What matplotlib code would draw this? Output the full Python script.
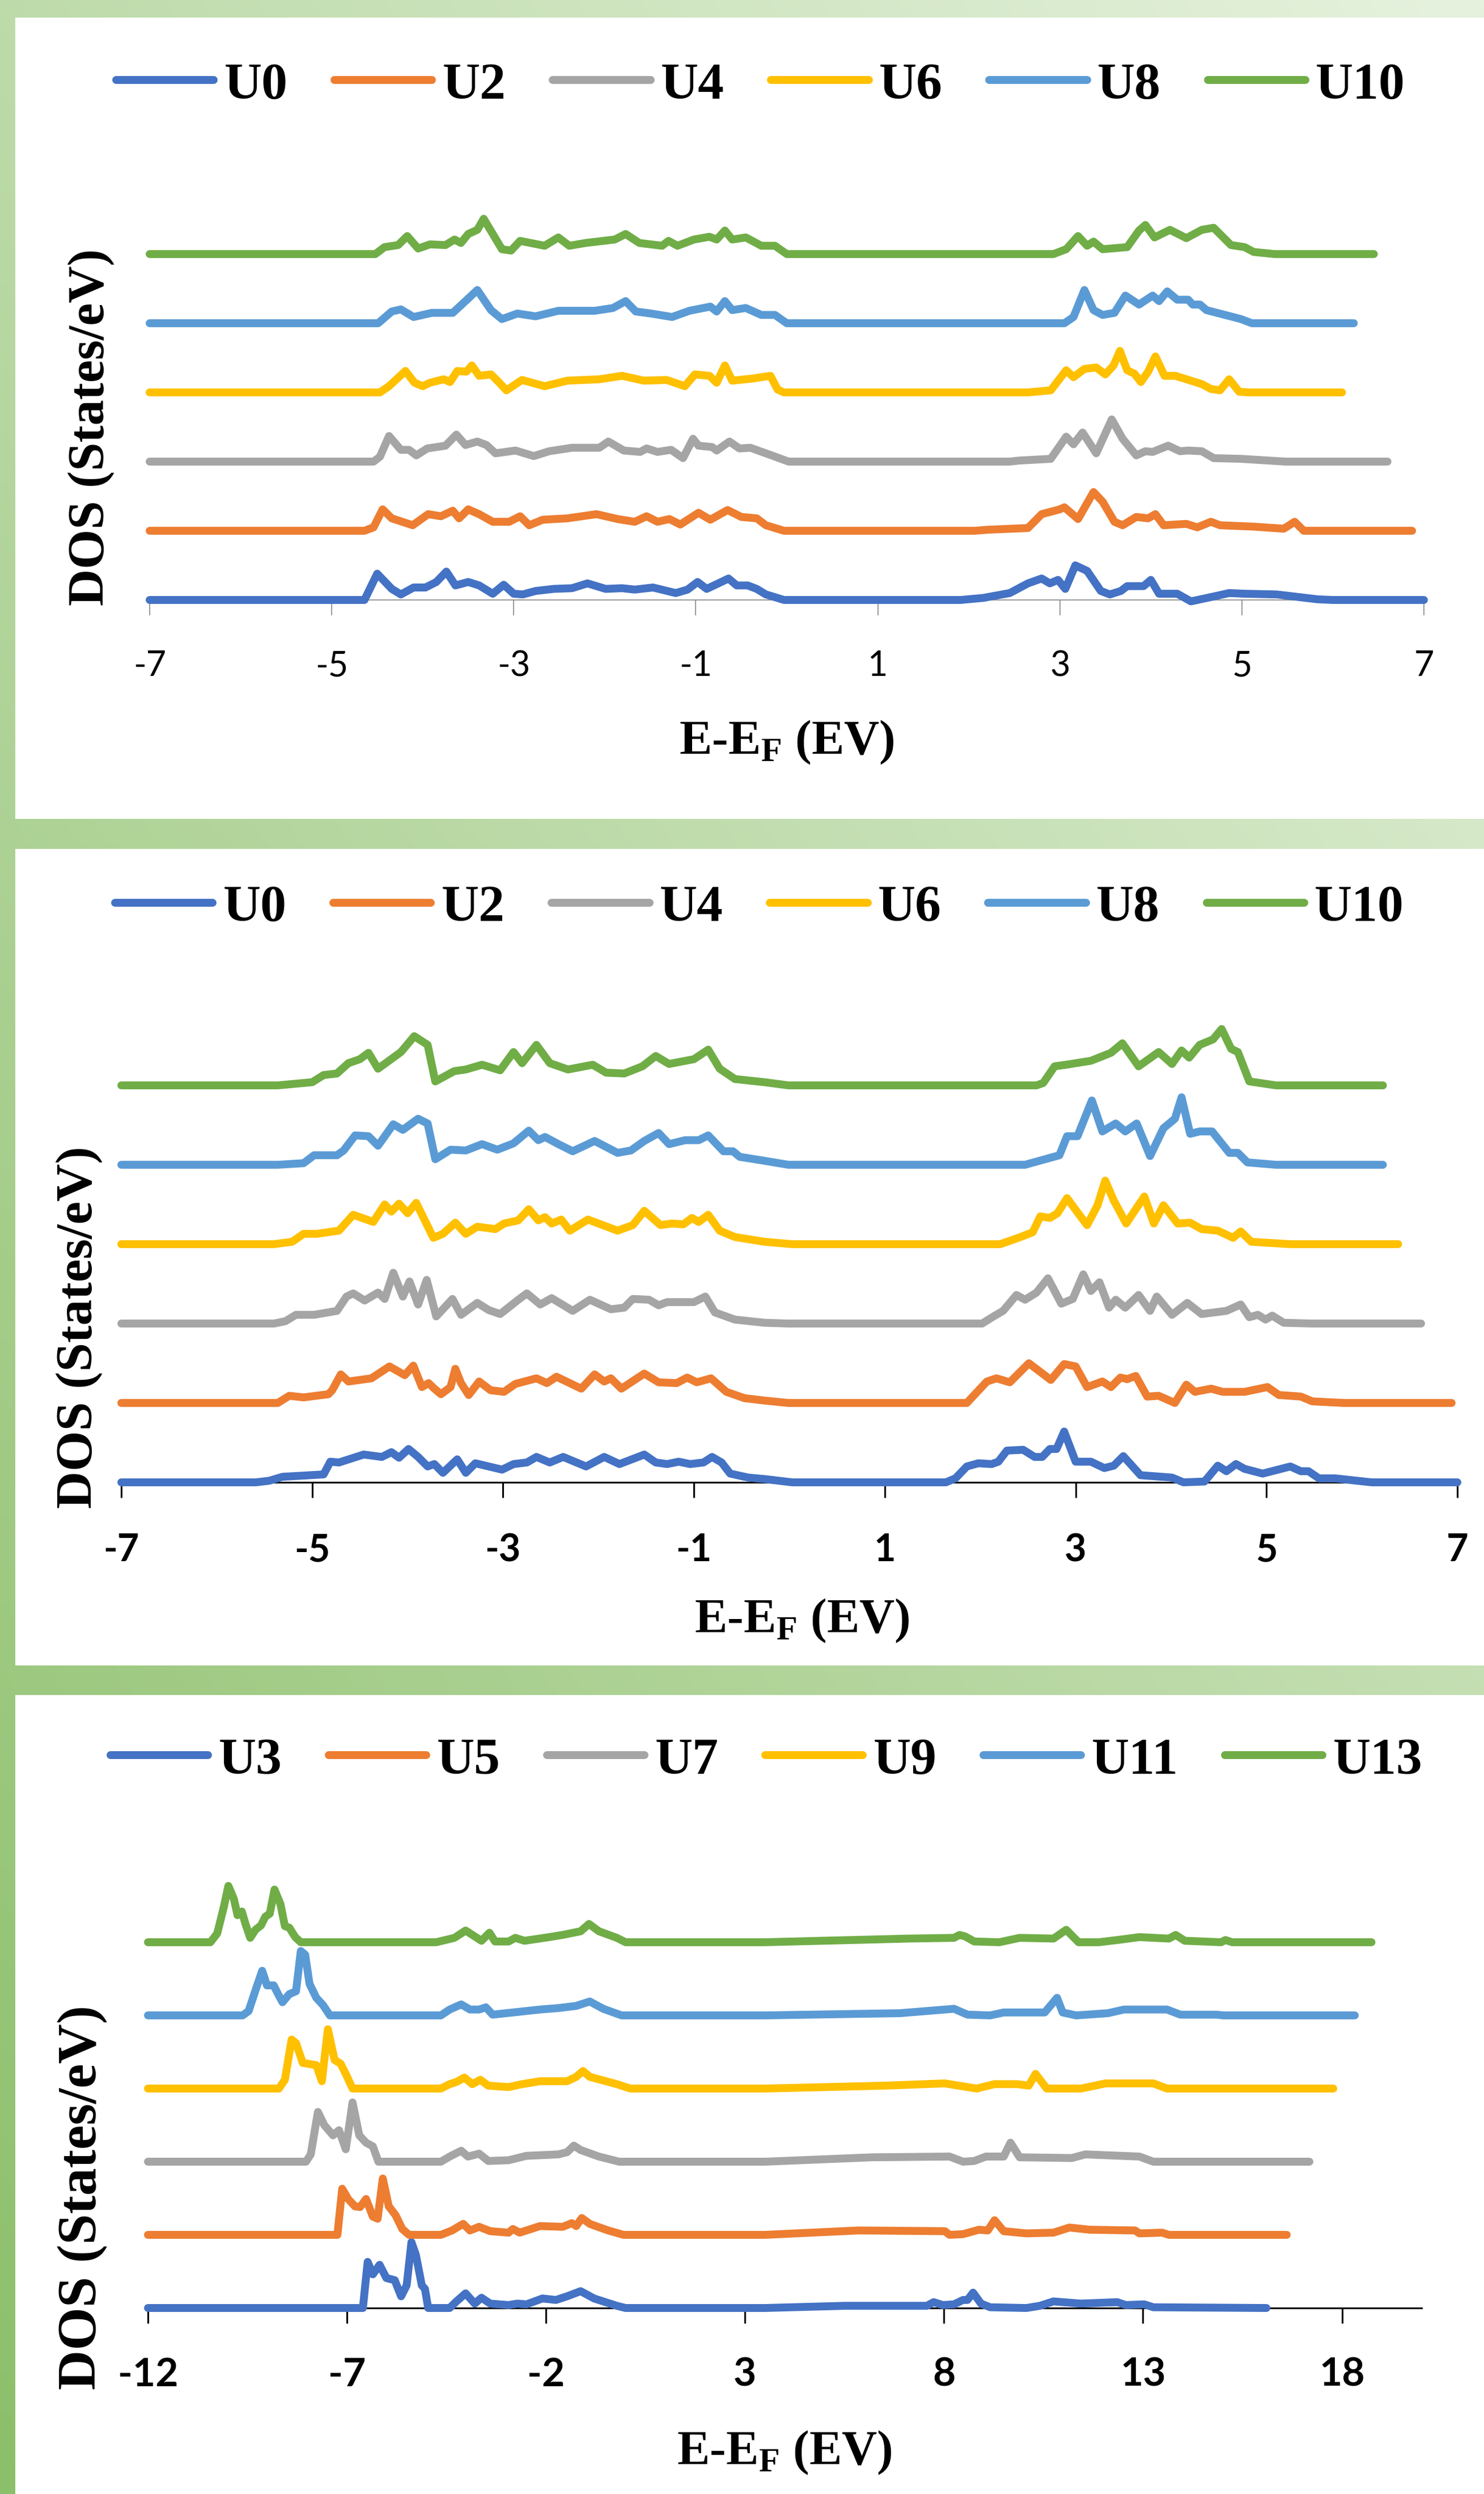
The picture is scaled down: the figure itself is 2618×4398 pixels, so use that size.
import matplotlib
matplotlib.use("Agg")
import matplotlib.pyplot as plt
import numpy as np
from matplotlib.patches import Rectangle
from matplotlib.lines import Line2D
from matplotlib.font_manager import FontProperties

W, H = 2618, 4398
DPI = 100

# ---------------- data: (E-EF, DOS) ----------------
# panel 1
P1_U0 = [(-7, 0), (-4.64, 0), (-4.50, 3.8), (-4.34, 1.6), (-4.24, 0.8), (-4.10, 1.8), (-3.97, 1.8), (-3.85, 2.6),
         (-3.74, 4.1), (-3.64, 2.1), (-3.50, 2.6), (-3.38, 2.1), (-3.23, 0.9), (-3.11, 2.2), (-3.00, 0.9), (-2.90, 0.8),
         (-2.76, 1.3), (-2.56, 1.6), (-2.36, 1.7), (-2.19, 2.4), (-1.99, 1.6), (-1.81, 1.7), (-1.67, 1.5), (-1.47, 1.8),
         (-1.22, 1.0), (-1.09, 1.5), (-0.98, 2.6), (-0.88, 1.6), (-0.64, 3.1), (-0.55, 2.1), (-0.43, 2.1), (-0.33, 1.6),
         (-0.23, 0.8), (-0.03, 0), (1.91, 0), (2.16, 0.3), (2.45, 1.0), (2.65, 2.4), (2.80, 3.1), (2.89, 2.4),
         (2.98, 2.9), (3.06, 1.6), (3.17, 5.0), (3.30, 4.2), (3.45, 1.3), (3.55, 0.8), (3.67, 1.3), (3.74, 2.0),
         (3.92, 2.0), (4.00, 2.9), (4.09, 0.9), (4.29, 0.9), (4.44, -0.2), (4.69, 0.5), (4.86, 1.0), (5.03, 0.9),
         (5.38, 0.8), (5.83, 0.1), (6.0, 0), (7.0, 0)]
P1_U2 = [(-7, 0), (-4.64, 0), (-4.54, 0.5), (-4.44, 3.1), (-4.34, 1.8), (-4.11, 0.8), (-3.94, 2.4), (-3.80, 2.1),
         (-3.67, 2.9), (-3.60, 1.8), (-3.50, 3.1), (-3.38, 2.4), (-3.23, 1.3), (-3.05, 1.3), (-2.93, 2.1), (-2.83, 0.8),
         (-2.68, 1.6), (-2.41, 1.8), (-2.09, 2.4), (-1.86, 1.7), (-1.67, 1.3), (-1.54, 2.1), (-1.42, 1.3), (-1.29, 1.7),
         (-1.17, 0.9), (-0.97, 2.6), (-0.84, 1.6), (-0.65, 3.0), (-0.50, 2.0), (-0.33, 1.8), (-0.23, 0.8), (-0.03, 0),
         (2.06, 0), (2.21, 0.15), (2.65, 0.4), (2.80, 2.4), (3.0, 3.1), (3.05, 3.4), (3.20, 1.7), (3.37, 5.6),
         (3.47, 4.2), (3.60, 1.3), (3.69, 0.8), (3.84, 2.0), (3.97, 1.8), (4.05, 2.4), (4.14, 0.8), (4.39, 1.0),
         (4.51, 0.5), (4.66, 1.3), (4.76, 0.8), (5.13, 0.6), (5.46, 0.3), (5.58, 1.3), (5.68, 0), (6.87, 0)]
P1_U4 = [(-7, 0), (-4.54, 0), (-4.47, 0.7), (-4.37, 3.7), (-4.24, 1.7), (-4.15, 1.7), (-4.07, 0.9), (-3.95, 1.9),
         (-3.75, 2.3), (-3.63, 3.9), (-3.53, 2.4), (-3.40, 2.9), (-3.30, 2.4), (-3.20, 1.2), (-2.98, 1.6), (-2.78, 0.8),
         (-2.61, 1.5), (-2.36, 2.0), (-2.06, 2.0), (-1.96, 2.9), (-1.79, 1.6), (-1.61, 1.4), (-1.54, 1.9), (-1.42, 1.4),
         (-1.27, 1.7), (-1.14, 0.5), (-1.03, 3.3), (-0.97, 2.3), (-0.82, 2.1), (-0.77, 1.6), (-0.63, 2.9), (-0.52, 1.9),
         (-0.40, 2.0), (-0.23, 1.2), (0.02, 0), (2.45, 0), (2.55, 0.15), (2.90, 0.4), (3.07, 3.6), (3.15, 2.5),
         (3.25, 4.2), (3.40, 1.2), (3.57, 6.1), (3.69, 3.3), (3.84, 0.9), (3.94, 1.5), (4.02, 1.4), (4.19, 2.3),
         (4.32, 1.5), (4.41, 1.6), (4.56, 1.5), (4.69, 0.5), (4.99, 0.4), (5.48, 0), (6.60, 0)]
P1_U6 = [(-7, 0), (-4.47, 0), (-4.37, 0.9), (-4.19, 3.1), (-4.09, 1.4), (-4.0, 0.9), (-3.92, 1.4), (-3.77, 1.9),
         (-3.70, 1.5), (-3.62, 3.1), (-3.52, 3.0), (-3.46, 3.9), (-3.38, 2.4), (-3.25, 2.6), (-3.18, 1.7), (-3.08, 0.3),
         (-2.91, 1.8), (-2.66, 0.9), (-2.41, 1.7), (-2.06, 1.9), (-1.81, 2.4), (-1.57, 1.7), (-1.32, 1.8), (-1.12, 0.9),
         (-1.01, 2.6), (-0.85, 2.4), (-0.77, 1.4), (-0.68, 3.9), (-0.60, 1.7), (-0.38, 2.0), (-0.18, 2.4), (-0.10, 0.4),
         (-0.03, 0), (2.65, 0), (2.90, 0.3), (3.07, 3.2), (3.15, 2.2), (3.27, 3.4), (3.40, 3.6), (3.50, 2.6),
         (3.59, 3.9), (3.66, 6.0), (3.74, 3.2), (3.82, 2.7), (3.89, 1.5), (3.97, 3.0), (4.05, 5.2), (4.15, 2.4),
         (4.27, 2.4), (4.56, 1.2), (4.66, 0.5), (4.76, 0.3), (4.86, 1.9), (4.97, 0.1), (5.07, 0), (6.10, 0)]
P1_U8 = [(-7, 0), (-4.49, 0), (-4.34, 1.7), (-4.24, 2.0), (-4.10, 0.9), (-3.90, 1.5), (-3.67, 1.5), (-3.53, 3.2),
         (-3.40, 4.8), (-3.25, 1.9), (-3.13, 0.6), (-2.96, 1.4), (-2.76, 1.0), (-2.51, 1.8), (-2.11, 1.8), (-1.91, 2.2),
         (-1.77, 3.2), (-1.66, 1.7), (-1.49, 1.4), (-1.26, 0.9), (-1.07, 1.8), (-0.84, 2.4), (-0.77, 1.7), (-0.68, 3.2),
         (-0.60, 1.9), (-0.45, 2.2), (-0.28, 1.2), (-0.13, 1.2), (0.0, 0), (3.05, 0), (3.15, 0.9), (3.27, 4.8),
         (3.37, 1.9), (3.47, 1.2), (3.60, 1.5), (3.72, 4.0), (3.87, 2.7), (4.02, 4.0), (4.09, 3.2), (4.18, 4.6),
         (4.29, 3.4), (4.41, 3.4), (4.46, 2.7), (4.54, 2.7), (4.61, 1.9), (4.99, 0.6), (5.11, 0), (6.23, 0)]
P1_U10 = [(-7, 0), (-4.52, 0), (-4.42, 1.0), (-4.27, 1.3), (-4.17, 2.6), (-4.05, 0.8), (-3.92, 1.4), (-3.75, 1.3),
          (-3.65, 2.1), (-3.58, 1.6), (-3.50, 2.9), (-3.40, 3.5), (-3.33, 5.1), (-3.23, 2.9), (-3.13, 0.7), (-3.03, 0.5),
          (-2.93, 1.9), (-2.66, 1.2), (-2.51, 2.4), (-2.39, 1.2), (-2.21, 1.6), (-1.89, 2.1), (-1.77, 2.9), (-1.62, 1.6),
          (-1.37, 1.2), (-1.30, 1.9), (-1.20, 1.2), (-1.02, 2.1), (-0.85, 2.5), (-0.77, 2.1), (-0.68, 3.4), (-0.60, 2.1),
          (-0.45, 2.4), (-0.28, 1.2), (-0.13, 1.2), (0.0, 0), (2.93, 0), (3.07, 0.7), (3.20, 2.6), (3.30, 1.2),
          (3.37, 1.8), (3.47, 0.7), (3.74, 1.0), (3.87, 3.4), (3.94, 4.2), (4.04, 2.4), (4.21, 3.5), (4.39, 2.3),
          (4.56, 3.5), (4.69, 3.8), (4.88, 1.3), (5.03, 1.0), (5.13, 0.3), (5.36, 0), (6.45, 0)]

# panel 2
P2_U0 = [(-7, 0), (-5.59, 0), (-5.45, 0.2), (-5.31, 0.7), (-5.02, 0.9), (-4.88, 1.0), (-4.81, 2.6), (-4.72, 2.5),
         (-4.46, 3.5), (-4.27, 3.2), (-4.17, 3.8), (-4.09, 3.1), (-3.99, 4.2), (-3.89, 3.2), (-3.79, 2.0), (-3.72, 2.3),
         (-3.63, 1.2), (-3.48, 2.9), (-3.39, 1.2), (-3.29, 2.4), (-3.01, 1.6), (-2.89, 2.3), (-2.75, 2.5), (-2.65, 3.2),
         (-2.51, 2.5), (-2.37, 3.2), (-2.13, 2.0), (-1.94, 3.2), (-1.78, 2.3), (-1.52, 3.5), (-1.40, 2.5), (-1.28, 2.3),
         (-1.16, 2.6), (-1.04, 2.3), (-0.90, 2.5), (-0.81, 3.2), (-0.71, 2.5), (-0.62, 1.1), (-0.43, 0.6), (-0.25, 0.4),
         (0.03, 0), (1.64, 0), (1.74, 0.5), (1.86, 2.0), (1.98, 2.4), (2.12, 2.3), (2.19, 2.6), (2.28, 4.0),
         (2.45, 4.1), (2.57, 3.2), (2.65, 3.2), (2.73, 4.2), (2.80, 4.2), (2.88, 6.4), (3.00, 2.6), (3.16, 2.6),
         (3.30, 1.8), (3.40, 2.1), (3.50, 3.3), (3.68, 0.9), (4.01, 0.6), (4.13, 0), (4.35, 0.1), (4.49, 2.1),
         (4.58, 1.4), (4.68, 2.3), (4.77, 1.7), (4.96, 1.1), (5.25, 2.0), (5.36, 1.4), (5.44, 1.4), (5.55, 0.5),
         (5.72, 0.5), (6.10, 0), (7.0, 0)]
P2_U2 = [(-7, 0), (-5.36, 0), (-5.24, 0.9), (-5.09, 0.7), (-4.83, 1.1), (-4.79, 1.6), (-4.70, 3.6), (-4.62, 2.7),
         (-4.38, 3.1), (-4.19, 4.6), (-4.03, 3.5), (-3.94, 4.7), (-3.85, 2.0), (-3.78, 2.5), (-3.72, 1.8), (-3.65, 1.1),
         (-3.55, 2.0), (-3.50, 4.3), (-3.44, 2.5), (-3.36, 1.0), (-3.25, 2.7), (-3.13, 1.6), (-2.99, 1.4), (-2.87, 2.4),
         (-2.65, 3.1), (-2.54, 2.5), (-2.44, 3.3), (-2.18, 1.8), (-2.04, 3.6), (-1.94, 2.7), (-1.87, 3.1), (-1.76, 1.8),
         (-1.52, 3.7), (-1.37, 2.6), (-1.18, 2.5), (-1.07, 3.2), (-0.97, 2.6), (-0.82, 3.1), (-0.66, 1.4), (-0.47, 0.6),
         (-0.26, 0.3), (-0.01, 0), (1.86, 0), (2.07, 2.7), (2.17, 3.1), (2.31, 2.6), (2.51, 5.0), (2.74, 2.9),
         (2.88, 4.9), (3.00, 4.6), (3.12, 2.0), (3.28, 2.7), (3.37, 2.0), (3.47, 3.2), (3.54, 3.0), (3.63, 3.4),
         (3.75, 0.8), (3.87, 0.9), (4.04, 0), (4.16, 2.3), (4.25, 1.4), (4.42, 1.8), (4.54, 1.4), (4.77, 1.4),
         (5.01, 2.0), (5.13, 1.0), (5.25, 0.9), (5.36, 0.8), (5.48, 0.2), (5.81, 0), (6.94, 0)]
P2_U4 = [(-7, 0), (-5.40, 0), (-5.28, 0.3), (-5.17, 1.1), (-4.98, 1.1), (-4.74, 1.6), (-4.64, 3.4), (-4.57, 3.8),
         (-4.45, 2.9), (-4.31, 3.9), (-4.24, 3.1), (-4.15, 6.4), (-4.05, 3.4), (-3.98, 5.3), (-3.89, 2.4), (-3.80, 5.5),
         (-3.70, 0.9), (-3.53, 3.1), (-3.44, 1.1), (-3.27, 2.6), (-3.15, 1.7), (-3.03, 1.2), (-2.84, 3.0), (-2.75, 3.8),
         (-2.61, 2.4), (-2.49, 3.2), (-2.27, 1.6), (-2.09, 3.0), (-1.87, 1.8), (-1.73, 2.0), (-1.64, 3.1), (-1.47, 3.0),
         (-1.37, 2.3), (-1.28, 2.7), (-1.00, 2.7), (-0.88, 3.4), (-0.78, 1.4), (-0.57, 0.5), (-0.26, 0.1), (-0.01, 0),
         (2.02, 0), (2.14, 0.9), (2.24, 1.6), (2.38, 3.6), (2.47, 3.0), (2.59, 3.9), (2.71, 5.7), (2.85, 2.5),
         (2.97, 3.1), (3.08, 6.2), (3.16, 4.1), (3.25, 5.2), (3.35, 2.0), (3.42, 3.0), (3.52, 2.0), (3.66, 3.6),
         (3.78, 1.6), (3.85, 3.4), (4.01, 1.1), (4.17, 2.6), (4.32, 1.2), (4.58, 1.6), (4.73, 2.4), (4.82, 0.8),
         (4.91, 1.1), (4.99, 0.5), (5.06, 1.0), (5.18, 0.1), (5.48, 0), (6.62, 0)]
P2_U6 = [(-7, 0), (-5.40, 0), (-5.21, 0.3), (-5.09, 1.3), (-4.95, 1.3), (-4.72, 1.7), (-4.57, 3.7), (-4.36, 2.8),
         (-4.24, 5.0), (-4.17, 4.1), (-4.09, 5.1), (-4.00, 3.9), (-3.91, 5.2), (-3.73, 0.8), (-3.63, 1.3), (-3.50, 2.7),
         (-3.39, 1.3), (-3.27, 2.2), (-3.08, 1.9), (-2.99, 2.6), (-2.84, 3.0), (-2.73, 4.4), (-2.63, 3.0), (-2.56, 3.4),
         (-2.49, 2.6), (-2.39, 3.1), (-2.30, 1.7), (-2.11, 3.1), (-1.80, 1.7), (-1.64, 2.4), (-1.52, 4.2), (-1.35, 2.4),
         (-1.23, 2.6), (-1.11, 2.5), (-1.02, 3.3), (-0.95, 2.8), (-0.85, 3.7), (-0.73, 1.7), (-0.57, 0.9), (-0.26, 0.3),
         (0.03, 0), (2.21, 0), (2.40, 0.8), (2.55, 1.5), (2.63, 3.5), (2.73, 3.3), (2.81, 3.9), (2.91, 5.8),
         (3.02, 4.0), (3.12, 2.4), (3.23, 4.9), (3.31, 8.0), (3.40, 5.5), (3.53, 2.6), (3.63, 4.4), (3.72, 6.0),
         (3.82, 2.6), (3.92, 4.9), (4.07, 2.6), (4.20, 2.7), (4.32, 1.9), (4.49, 1.7), (4.65, 0.8), (4.73, 1.6),
         (4.84, 0.3), (5.25, 0), (6.38, 0)]
P2_U8 = [(-7, 0), (-5.36, 0), (-5.09, 0.2), (-4.98, 1.2), (-4.74, 1.2), (-4.67, 1.8), (-4.55, 3.7), (-4.41, 3.6),
         (-4.31, 2.4), (-4.15, 5.1), (-4.05, 4.4), (-3.89, 5.8), (-3.79, 5.2), (-3.71, 0.7), (-3.55, 1.9), (-3.39, 1.8),
         (-3.22, 2.6), (-3.06, 1.9), (-2.89, 2.7), (-2.73, 4.3), (-2.63, 3.1), (-2.56, 3.5), (-2.42, 2.6), (-2.27, 1.7),
         (-2.04, 3.0), (-1.80, 1.5), (-1.66, 1.8), (-1.52, 3.0), (-1.37, 4.0), (-1.26, 2.6), (-1.09, 3.1), (-0.95, 3.1),
         (-0.85, 3.7), (-0.69, 1.7), (-0.59, 1.7), (-0.52, 1.0), (-0.26, 0.5), (-0.01, 0), (2.47, 0), (2.71, 0.8),
         (2.83, 1.2), (2.91, 3.6), (3.02, 3.6), (3.17, 8.1), (3.28, 4.2), (3.42, 5.2), (3.52, 4.2), (3.64, 5.2),
         (3.78, 1.1), (3.92, 4.6), (4.04, 5.8), (4.11, 8.5), (4.20, 3.9), (4.30, 4.2), (4.43, 4.2), (4.61, 1.5),
         (4.70, 1.5), (4.80, 0.3), (5.10, 0), (6.22, 0)]
P2_U10 = [(-7, 0), (-5.36, 0), (-5.00, 0.4), (-4.88, 1.3), (-4.74, 1.5), (-4.62, 2.8), (-4.50, 3.3), (-4.41, 4.1),
          (-4.31, 2.1), (-4.07, 4.2), (-3.93, 6.2), (-3.79, 5.1), (-3.71, 0.5), (-3.51, 1.8), (-3.39, 2.0), (-3.22, 2.6),
          (-3.03, 1.9), (-2.89, 4.2), (-2.80, 2.8), (-2.65, 5.1), (-2.51, 2.8), (-2.32, 2.0), (-2.06, 2.6), (-1.92, 1.6),
          (-1.73, 1.5), (-1.54, 2.4), (-1.40, 3.7), (-1.26, 2.7), (-1.00, 3.3), (-0.85, 4.5), (-0.73, 2.1), (-0.57, 0.8),
          (-0.26, 0.4), (-0.01, 0), (2.59, 0), (2.66, 0.3), (2.78, 2.4), (2.90, 2.6), (3.16, 3.1), (3.37, 4.1),
          (3.49, 5.3), (3.66, 2.4), (3.87, 4.2), (4.01, 2.7), (4.11, 4.4), (4.19, 3.5), (4.30, 5.1), (4.44, 5.8),
          (4.53, 7.1), (4.63, 4.6), (4.70, 4.2), (4.82, 0.5), (5.10, 0), (6.22, 0)]

# panel 3
P3_U3 = [(-12, 0), (-6.60, 0), (-6.48, 6.3), (-6.35, 4.6), (-6.18, 5.9), (-6.01, 4.1), (-5.80, 3.8), (-5.64, 1.6),
         (-5.50, 3.1), (-5.38, 9.0), (-5.27, 7.3), (-5.12, 3.1), (-5.04, 2.6), (-4.96, 0), (-4.42, 0), (-4.25, 0.9),
         (-4.02, 2.0), (-3.79, 0.6), (-3.62, 1.4), (-3.40, 0.6), (-2.94, 0.4), (-2.72, 0.6), (-2.49, 0.5), (-2.09, 1.3),
         (-1.75, 1.1), (-1.47, 1.6), (-1.13, 2.3), (-0.79, 1.3), (-0.22, 0.3), (0.0, 0), (3.5, 0), (5.52, 0.3),
         (7.57, 0.3), (7.74, 0.8), (7.97, 0.4), (8.25, 0.5), (8.48, 1.1), (8.59, 1.1), (8.73, 2.1), (8.93, 0.6),
         (9.16, 0.1), (10.07, 0), (10.41, 0.3), (10.75, 0.9), (11.44, 0.6), (12.35, 0.8), (12.57, 0.4), (13.03, 0.5),
         (13.26, 0.1), (16.1, 0)]
P3_U5 = [(-12, 0), (-7.28, 0), (-7.24, 0), (-7.12, 6.3), (-6.97, 4.9), (-6.80, 3.9), (-6.67, 3.8), (-6.52, 4.9),
         (-6.35, 2.5), (-6.23, 2.2), (-6.10, 7.7), (-5.95, 3.9), (-5.78, 2.7), (-5.61, 0.8), (-5.44, 0), (-4.64, 0),
         (-4.36, 0.6), (-4.08, 1.5), (-3.91, 0.6), (-3.68, 1.1), (-3.40, 0.5), (-2.94, 0.3), (-2.83, 0.8), (-2.66, 0.3),
         (-2.15, 1.2), (-1.58, 1.1), (-1.35, 1.6), (-1.24, 1.2), (-1.10, 2.3), (-0.90, 1.5), (-0.44, 0.6), (-0.05, 0),
         (3.5, 0), (5.86, 0.6), (8.02, 0.5), (8.14, 0), (8.48, 0.1), (8.88, 0.7), (9.10, 0.6), (9.27, 2.0),
         (9.50, 0.5), (10.07, 0.2), (10.75, 0.3), (11.15, 1.0), (11.66, 0.7), (12.80, 0.6), (12.91, 0.2), (13.48, 0.3),
         (13.65, 0), (16.61, 0)]
P3_U7 = [(-12, 0), (-8.03, 0), (-7.91, 1.0), (-7.73, 6.8), (-7.57, 5.0), (-7.35, 3.6), (-7.20, 4.3), (-7.03, 1.7),
         (-6.86, 8.1), (-6.69, 3.6), (-6.52, 2.6), (-6.35, 2.1), (-6.21, 0), (-4.64, 0), (-4.42, 0.7), (-4.13, 1.5),
         (-3.96, 0.7), (-3.68, 1.1), (-3.45, 0.1), (-2.94, 0.2), (-2.49, 0.8), (-1.69, 1.0), (-1.47, 1.3), (-1.30, 2.2),
         (-1.13, 1.6), (-0.67, 0.7), (-0.16, 0), (3.5, 0), (6.20, 0.6), (8.14, 0.7), (8.48, 0), (8.76, 0.1),
         (9.05, 0.7), (9.50, 0.7), (9.67, 2.6), (9.90, 0.6), (11.21, 0.5), (11.55, 1.0), (12.91, 0.7), (13.26, 0),
         (17.18, 0)]
P3_U9 = [(-12, 0), (-8.71, 0), (-8.56, 1.2), (-8.39, 6.7), (-8.28, 6.2), (-8.11, 3.5), (-7.77, 3.2), (-7.63, 1.0),
         (-7.48, 8.1), (-7.31, 3.9), (-7.16, 3.4), (-7.03, 2.0), (-6.86, 0), (-4.64, 0), (-4.42, 0.6), (-4.25, 0.9),
         (-4.05, 1.5), (-3.85, 0.6), (-3.65, 1.2), (-3.45, 0.4), (-2.94, 0.2), (-2.60, 0.6), (-2.15, 1.0), (-1.47, 1.0),
         (-1.24, 1.6), (-1.07, 2.4), (-0.90, 1.6), (-0.22, 0.6), (0.12, 0), (3.5, 0), (6.54, 0.4), (8.02, 0.7),
         (8.36, 0.4), (8.82, 0), (9.27, 0.6), (9.84, 0.6), (10.13, 0.4), (10.30, 2.0), (10.58, 0), (11.44, 0),
         (12.06, 0.7), (13.26, 0.7), (13.6, 0), (17.78, 0)]
P3_U11 = [(-12, 0), (-9.62, 0), (-9.47, 0.6), (-9.30, 3.4), (-9.13, 6.1), (-9.01, 4.1), (-8.84, 4.1), (-8.73, 2.9),
          (-8.62, 1.8), (-8.45, 2.9), (-8.28, 3.3), (-8.16, 8.8), (-8.05, 8.3), (-7.94, 4.3), (-7.77, 2.4), (-7.60, 1.4),
          (-7.43, 0), (-4.64, 0), (-4.42, 0.8), (-4.13, 1.5), (-3.91, 0.8), (-3.68, 0.8), (-3.51, 1.1), (-3.34, 0.1),
          (-2.83, 0.4), (-2.15, 0.8), (-1.69, 1.0), (-1.24, 1.3), (-0.90, 1.9), (-0.56, 0.9), (-0.10, 0), (3.5, 0),
          (6.89, 0.3), (8.25, 0.9), (8.59, 0.1), (9.16, 0), (9.50, 0.4), (10.53, 0.4), (10.84, 2.4), (10.98, 0.4),
          (11.32, 0), (12.12, 0.3), (12.52, 0.8), (13.60, 0.8), (13.94, 0.1), (14.85, 0.1), (15.02, 0), (18.32, 0)]
P3_U13 = [(-12, 0), (-10.43, 0), (-10.26, 1.2), (-10.09, 4.9), (-9.98, 7.7), (-9.84, 5.9), (-9.75, 3.7), (-9.64, 4.2),
          (-9.55, 2.5), (-9.43, 0.6), (-9.30, 1.7), (-9.16, 2.3), (-9.05, 3.5), (-8.94, 3.9), (-8.82, 7.2), (-8.67, 5.2),
          (-8.56, 2.2), (-8.45, 2.0), (-8.30, 0.7), (-8.16, 0), (-4.76, 0), (-4.30, 0.6), (-4.02, 1.6), (-3.62, 0.2),
          (-3.42, 1.3), (-3.28, 0.1), (-2.94, 0.1), (-2.77, 0.6), (-2.54, 0.2), (-1.92, 0.7), (-1.58, 1.0), (-1.13, 1.5),
          (-0.92, 2.5), (-0.67, 1.5), (-0.22, 0.6), (0.0, 0), (3.5, 0), (7.11, 0.5), (8.25, 0.6), (8.39, 1.0),
          (8.53, 0.8), (8.76, 0.1), (9.39, 0), (9.90, 0.6), (10.75, 0.5), (11.07, 1.7), (11.38, 0), (11.89, 0),
          (12.35, 0.3), (12.91, 0.7), (13.65, 0.5), (13.82, 1.0), (14.05, 0.2), (14.96, 0), (15.07, 0.3), (15.24, 0),
          (18.74, 0)]

NAMES_1 = ["U0", "U2", "U4", "U6", "U8", "U10"]
NAMES_3 = ["U3", "U5", "U7", "U9", "U11", "U13"]
TICKS_1 = [-7, -5, -3, -1, 1, 3, 5, 7]
TICKS_3 = [-12, -7, -2, 3, 8, 13, 18]
OFFSET = 10   # vertical shift between stacked curves

COLORS = ["#4472C4", "#ED7D31", "#A5A5A5", "#FFC000", "#5B9BD5", "#70AD47"]
LW = 10

plt.rcParams["mathtext.fontset"] = "custom"
plt.rcParams["mathtext.rm"] = "Liberation Serif:bold"
plt.rcParams["mathtext.bf"] = "Liberation Serif:bold"
plt.rcParams["mathtext.it"] = "Liberation Serif:bold:italic"

fig = plt.figure(figsize=(W / DPI, H / DPI), dpi=DPI)

# green gradient frame with white panels
bg = fig.add_axes([0, 0, 1, 1], zorder=-5)
gy, gx = np.mgrid[0:1:200j, 0:1:200j]
t = 0.55 * (1 - gy) + 0.45 * gx
c0 = np.array([140, 191, 106]) / 255
c1 = np.array([230, 242, 222]) / 255
bg.imshow(c0 + t[..., None] * (c1 - c0), extent=(0, W, H, 0), aspect="auto", interpolation="bilinear")
for y0, y1 in [(31, 1444), (1497, 2937), (2989, H)]:
    bg.add_patch(Rectangle((27, y0), W - 27, y1 - y0, facecolor="white", edgecolor="none"))
bg.set_xlim(0, W)
bg.set_ylim(H, 0)
bg.axis("off")

serif_bold = dict(family="Liberation Serif", weight="bold")


def draw_panel(series, names, xlim, ticks, x_px, axis_px, ppu, tick_style, legend_xy, legend_size,
               ylabel_xy, ylabel_size, xlabel_xy):
    ymax = 60
    top = axis_px - ymax * ppu
    ax = fig.add_axes([x_px[0] / W, 1 - axis_px / H, (x_px[1] - x_px[0]) / W, (axis_px - top) / H])
    ax.patch.set_alpha(0)
    for i, (pts, c) in enumerate(zip(series, COLORS)):
        xs = [p[0] for p in pts]
        ys = [p[1] + i * OFFSET for p in pts]
        ax.plot(xs, ys, color=c, lw=LW, solid_capstyle="round", solid_joinstyle="round",
                clip_on=False, zorder=3 + i)
    ax.set_xlim(*xlim)
    ax.set_ylim(0, ymax)
    for s in ["left", "right", "top"]:
        ax.spines[s].set_visible(False)
    ax.spines["bottom"].set_color(tick_style["color"])
    ax.spines["bottom"].set_linewidth(tick_style["lw"])
    ax.spines["bottom"].set_zorder(2)
    ax.set_yticks([])
    ax.set_xticks(ticks)
    ax.set_xticklabels([str(v) for v in ticks], family="Lato", weight=tick_style["weight"],
                       size=tick_style["size"])
    ax.tick_params(axis="x", direction="out", length=19.4, width=tick_style["lw"],
                   color=tick_style["color"], pad=tick_style["pad"])

    handles = [Line2D([], [], color=c, lw=LW, solid_capstyle="round") for c in COLORS]
    ax.legend(handles, names, loc="center", bbox_to_anchor=(legend_xy[0] / W, 1 - legend_xy[1] / H),
              bbox_transform=fig.transFigure, ncol=6, frameon=False,
              prop=FontProperties(size=legend_size, **serif_bold),
              handlelength=1.88, handletextpad=0.2, columnspacing=0.9)

    fig.text(ylabel_xy[0] / W, 1 - ylabel_xy[1] / H, "DOS (States/eV)", rotation=90,
             ha="center", va="center", size=ylabel_size, **serif_bold)
    fig.text(xlabel_xy[0] / W, 1 - xlabel_xy[1] / H, r"E-E$_{\mathrm{F}}$ (EV)",
             ha="center", va="baseline", size=62, **serif_bold)
    return ax


draw_panel([P1_U0, P1_U2, P1_U4, P1_U6, P1_U8, P1_U10], NAMES_1, (-7, 7), TICKS_1,
           (264, 2512), 1058, 12.2,
           dict(color="#868686", lw=1.2, weight="normal", size=44, pad=44),
           (1342, 151), 66, (161, 753), 65, (1388, 1330))

draw_panel([P2_U0, P2_U2, P2_U4, P2_U6, P2_U8, P2_U10], NAMES_1, (-7, 7), TICKS_1,
           (214, 2571), 2614, 14.0,
           dict(color="black", lw=2.2, weight="bold", size=48, pad=45),
           (1340, 1601), 66, (140, 2341), 66, (1415, 2879))

draw_panel([P3_U3, P3_U5, P3_U7, P3_U9, P3_U11, P3_U13], NAMES_3, (-12, 20), TICKS_3,
           (261, 2508), 4070, 12.9,
           dict(color="black", lw=2.2, weight="bold", size=50, pad=43),
           (1352, 3105), 66, (146, 3875), 70, (1384, 4346))

fig.savefig("out.png", dpi=DPI)
